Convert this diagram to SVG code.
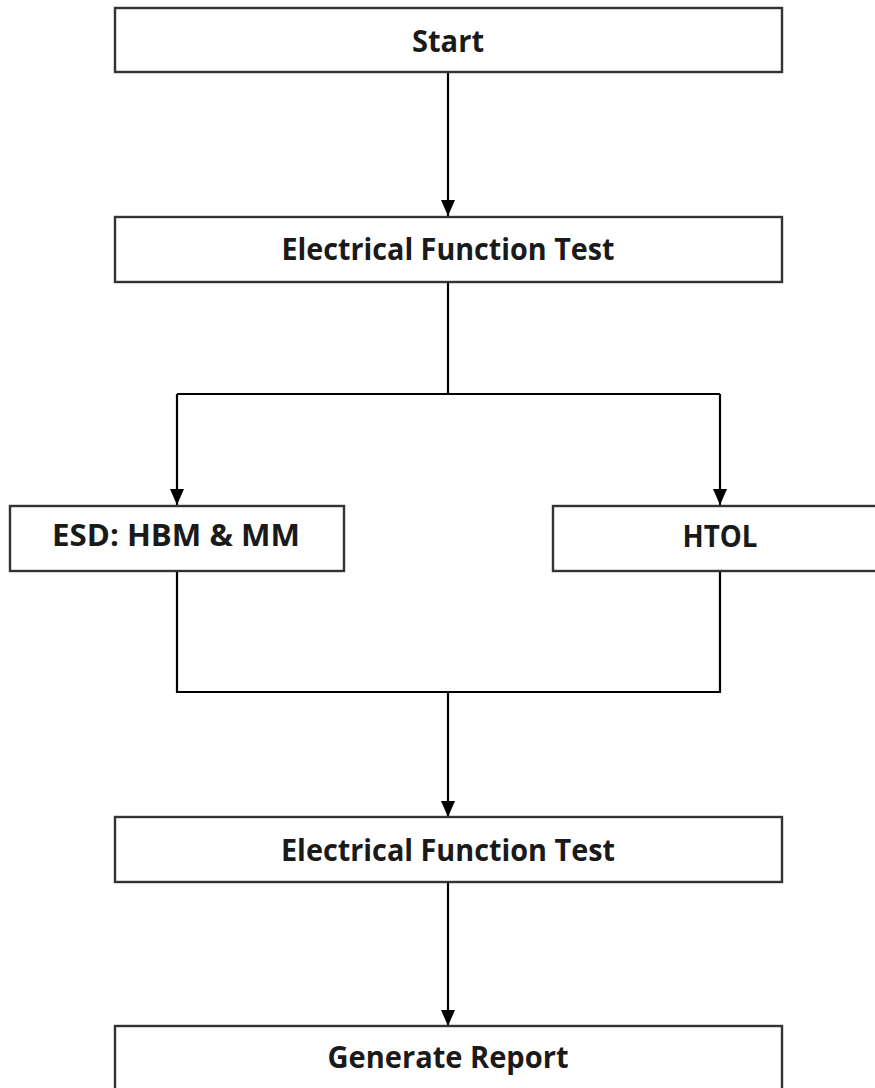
<svg xmlns="http://www.w3.org/2000/svg" width="875" height="1088" viewBox="0 0 875 1088">
<style>
.box{fill:#fff;stroke:#333;stroke-width:2.4}
.lbl{font-family:"Open Sans","Liberation Sans",sans-serif;font-weight:bold;font-size:31px;fill:#1a1a1a;text-anchor:middle}
.ln{fill:none;stroke:#000;stroke-width:2.2}
</style>
<defs>
<marker id="arr" viewBox="0 0 16 14" refX="16" refY="7" markerWidth="16" markerHeight="14" markerUnits="userSpaceOnUse" orient="auto">
<path d="M0,0 L16,7 L0,14 Z" fill="#000"/>
</marker>
</defs>
<g id="connectors">
<path class="ln" d="M448,72 V216" marker-end="url(#arr)"/>
<path class="ln" d="M448,282 V394"/>
<path class="ln" d="M177,394 H720"/>
<path class="ln" d="M177,394 V505" marker-end="url(#arr)"/>
<path class="ln" d="M720,394 V505" marker-end="url(#arr)"/>
<path class="ln" d="M177,571 V692 H720 V571"/>
<path class="ln" d="M448,692 V817" marker-end="url(#arr)"/>
<path class="ln" d="M448,882 V1026" marker-end="url(#arr)"/>
</g>
<g id="start">
<rect class="box" x="115" y="8" width="667" height="64"/>
<text class="lbl" x="448" y="52" textLength="72" lengthAdjust="spacingAndGlyphs">Start</text>
</g>
<g id="eft1">
<rect class="box" x="115" y="217" width="667" height="65"/>
<text class="lbl" x="448" y="260" textLength="333" lengthAdjust="spacingAndGlyphs">Electrical Function Test</text>
</g>
<g id="esd">
<rect class="box" x="10" y="506" width="334" height="65"/>
<text class="lbl" x="176" y="546" textLength="248" lengthAdjust="spacingAndGlyphs">ESD: HBM &amp; MM</text>
</g>
<g id="htol">
<rect class="box" x="553" y="506" width="340" height="65"/>
<text class="lbl" x="720" y="547" textLength="75" lengthAdjust="spacingAndGlyphs">HTOL</text>
</g>
<g id="eft2">
<rect class="box" x="115" y="817" width="667" height="65"/>
<text class="lbl" x="448" y="861" textLength="334" lengthAdjust="spacingAndGlyphs">Electrical Function Test</text>
</g>
<g id="report">
<rect class="box" x="115" y="1026" width="667" height="80"/>
<text class="lbl" x="448" y="1068" textLength="241" lengthAdjust="spacingAndGlyphs">Generate Report</text>
</g>
</svg>
